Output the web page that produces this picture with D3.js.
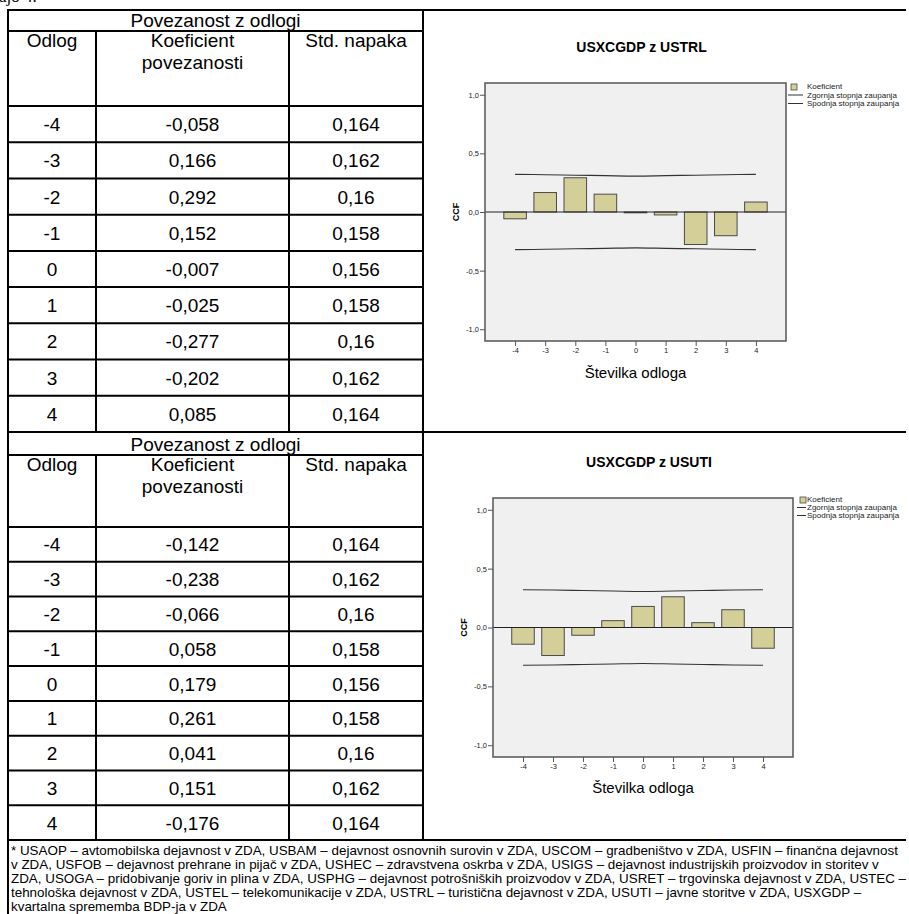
<!DOCTYPE html>
<html>
<head>
<meta charset="utf-8">
<script src="https://cdn.jsdelivr.net/npm/d3@7"></script>
<style>
    body { margin: 0; background: white; }
    svg { display: block; font-family: Arial, "Liberation Sans", sans-serif; }
</style>
</head>
<body>
<svg id="page" width="909" height="914"></svg>
<script>
// Data
const lags = [-4, -3, -2, -1, 0, 1, 2, 3, 4];
const ccfUstrl = [-0.058, 0.166, 0.292, 0.152, -0.007, -0.025, -0.277, -0.202, 0.085];
const ccfUsuti = [-0.142, -0.238, -0.066, 0.058, 0.179, 0.261, 0.041, 0.151, -0.176];
const stdErrors = [0.164, 0.162, 0.16, 0.158, 0.156, 0.158, 0.16, 0.162, 0.164];
const upperLimit = [0.321, 0.318, 0.314, 0.310, 0.306, 0.310, 0.314, 0.318, 0.321];
const lowerLimit = [-0.321, -0.318, -0.314, -0.310, -0.306, -0.310, -0.314, -0.318, -0.321];
const yTicks = [-1, -0.5, 0, 0.5, 1];
const tableTitle = 'Povezanost z odlogi';
const colHeaders = [['Odlog'], ['Koeficient', 'povezanosti'], ['Std. napaka']];
const chartTitles = ['USXCGDP z USTRL', 'USXCGDP z USUTI'];
const legendLabels = ['Koeficient', 'Zgornja stopnja zaupanja', 'Spodnja stopnja zaupanja'];
const footnoteLines = [
    '* USAOP – avtomobilska dejavnost v ZDA, USBAM – dejavnost osnovnih surovin v ZDA, USCOM – gradbeništvo v ZDA, USFIN – finančna dejavnost',
    'v ZDA, USFOB – dejavnost prehrane in pijač v ZDA, USHEC – zdravstvena oskrba v ZDA, USIGS – dejavnost industrijskih proizvodov in storitev v',
    'ZDA, USOGA – pridobivanje goriv in plina v ZDA, USPHG – dejavnost potrošniških proizvodov v ZDA, USRET – trgovinska dejavnost v ZDA, USTEC –',
    'tehnološka dejavnost v ZDA, USTEL – telekomunikacije v ZDA, USTRL – turistična dejavnost v ZDA, USUTI – javne storitve v ZDA, USXGDP –',
    'kvartalna sprememba BDP-ja v ZDA'
];

// Constants
const COL_X = [8, 96, 289, 423];
const RIGHT_X = 906;
const BAR_FILL = '#d4cf98';
const PLOT_BG = '#f0f0f0';
const locale = d3.formatLocale({ decimal: ',', thousands: '.', grouping: [3], currency: ['', ''], minus: '-' });
const fmtValue = locale.format('.3~f');
const fmtTick = locale.format('.1f');

const svg = d3.select('#page');

// Cut off text from the page above
svg.append('text')
    .attr('x', -1).attr('y', 2)
    .attr('font-family', '"Liberation Serif", serif')
    .attr('font-size', 17)
    .text('ajo 4.');

const blocks = [
    { top: 10, titleLine: 31, headBottom: 106, bottom: 432, ccf: ccfUstrl },
    { top: 432, titleLine: 455, headBottom: 527, bottom: 840, ccf: ccfUsuti }
];

const panels = [
    { left: 485, right: 786, top: 83, bottom: 341, titleY: 52, labelY: 378, ccfX: 459, legend: { x: 788, y: 89, sw: 791, lineEnd: 803, textX: 807, step: 8.5 } },
    { left: 493, right: 793, top: 498, bottom: 757, titleY: 467, labelY: 793, ccfX: 467, legend: { x: 797, y: 502, sw: 800, lineEnd: 806, textX: 807, step: 8 } }
];

blocks.forEach((b, i) => {
    drawTable(b);
    drawChart(panels[i], b.ccf, chartTitles[i]);
});

// Outer lines
const frame = svg.append('g').attr('stroke', 'black').attr('stroke-width', 2);
frame.append('line').attr('x1', 7).attr('x2', RIGHT_X).attr('y1', 10).attr('y2', 10);
frame.append('line').attr('x1', 8).attr('x2', 8).attr('y1', 10).attr('y2', 914);
frame.append('line').attr('x1', COL_X[3]).attr('x2', COL_X[3]).attr('y1', 10).attr('y2', 840);
frame.append('line').attr('x1', 7).attr('x2', RIGHT_X).attr('y1', 432).attr('y2', 432);
frame.append('line').attr('x1', 7).attr('x2', RIGHT_X).attr('y1', 840).attr('y2', 840);

// Footnote
svg.append('g')
    .attr('font-family', '"Liberation Sans Narrow", "Arial Narrow", Arial, sans-serif')
    .attr('font-size', 13.4)
    .selectAll('text')
    .data(footnoteLines)
    .enter().append('text')
        .attr('x', 11)
        .attr('y', (d, i) => 855 + i * 14)
        .text((d) => d);

function drawTable(b) {
    const g = svg.append('g');
    const rowScale = d3.scaleBand()
        .domain(lags)
        .range([b.headBottom, b.bottom]);

    // Grid
    const grid = g.append('g').attr('stroke', 'black').attr('stroke-width', 2);
    grid.append('line').attr('x1', COL_X[0]).attr('x2', COL_X[3]).attr('y1', b.titleLine).attr('y2', b.titleLine);
    [COL_X[1], COL_X[2]].forEach((x) => {
        grid.append('line').attr('x1', x).attr('x2', x).attr('y1', b.titleLine).attr('y2', b.bottom);
    });
    grid.selectAll('line.row')
        .data(lags)
        .enter().append('line')
            .attr('class', 'row')
            .attr('x1', COL_X[0]).attr('x2', COL_X[3])
            .attr('y1', (d) => rowScale(d)).attr('y2', (d) => rowScale(d));

    const txt = g.append('g')
        .attr('font-size', 19)
        .attr('text-anchor', 'middle')
        .attr('fill', 'black');

    txt.append('text')
        .attr('x', (COL_X[0] + COL_X[3]) / 2)
        .attr('y', b.titleLine - 4)
        .text(tableTitle);

    colHeaders.forEach((lines, c) => {
        lines.forEach((line, k) => {
            txt.append('text')
                .attr('x', (COL_X[c] + COL_X[c + 1]) / 2)
                .attr('y', b.titleLine + 16 + k * 22)
                .text(line);
        });
    });

    const rows = txt.selectAll('g.r')
        .data(lags.map((l, i) => [String(l), fmtValue(b.ccf[i]), fmtValue(stdErrors[i])]))
        .enter().append('g')
            .attr('class', 'r')
            .attr('transform', (d, i) => 'translate(0,' + (rowScale(lags[i]) + rowScale.bandwidth() / 2 + 7) + ')');
    [0, 1, 2].forEach((c) => {
        rows.append('text')
            .attr('x', (COL_X[c] + COL_X[c + 1]) / 2)
            .text((d) => d[c]);
    });
}

function drawChart(p, ccf, title) {
    const g = svg.append('g');

    const x = d3.scaleLinear().domain([-5, 5]).range([p.left, p.right]);
    const y = d3.scaleLinear().domain([-1.1, 1.1]).range([p.bottom, p.top]);
    const barW = (x(1) - x(0)) * 0.75;

    // Title
    g.append('text')
        .attr('x', (p.left + p.right) / 2 + 6)
        .attr('y', p.titleY)
        .attr('text-anchor', 'middle')
        .attr('font-weight', 'bold')
        .attr('font-size', 14)
        .text(title);

    // Plot background
    g.append('rect')
        .attr('x', p.left).attr('y', p.top)
        .attr('width', p.right - p.left).attr('height', p.bottom - p.top)
        .attr('fill', PLOT_BG);

    // Bars
    g.append('g')
        .selectAll('rect')
        .data(lags)
        .enter().append('rect')
            .attr('x', (d) => x(d) - barW / 2)
            .attr('y', (d, i) => y(Math.max(0, ccf[i])))
            .attr('width', barW)
            .attr('height', (d, i) => Math.abs(y(ccf[i]) - y(0)))
            .attr('fill', BAR_FILL)
            .attr('stroke', '#4a4a4a')
            .attr('stroke-width', 1);

    // Confidence limits
    const limitLine = d3.line()
        .x((d) => x(d[0]))
        .y((d) => y(d[1]))
        .curve(d3.curveMonotoneX);
    [upperLimit, lowerLimit].forEach((lim) => {
        g.append('path')
            .attr('d', limitLine(lags.map((l, i) => [l, lim[i]])))
            .attr('fill', 'none')
            .attr('stroke', '#333')
            .attr('stroke-width', 1.1);
    });

    // Zero line
    g.append('line')
        .attr('x1', p.left).attr('x2', p.right)
        .attr('y1', y(0)).attr('y2', y(0))
        .attr('stroke', '#222')
        .attr('stroke-width', 1.2);

    // Plot frame
    g.append('rect')
        .attr('x', p.left).attr('y', p.top)
        .attr('width', p.right - p.left).attr('height', p.bottom - p.top)
        .attr('fill', 'none')
        .attr('stroke', '#555')
        .attr('stroke-width', 1.5);

    // Axes
    const yAxis = g.append('g')
        .attr('transform', 'translate(' + p.left + ',0)')
        .call(d3.axisLeft(y).tickValues(yTicks).tickSize(5).tickPadding(1).tickFormat(fmtTick));
    const xAxis = g.append('g')
        .attr('transform', 'translate(0,' + p.bottom + ')')
        .call(d3.axisBottom(x).tickValues(lags).tickSize(5).tickPadding(2).tickFormat((d) => String(d)));
    [xAxis, yAxis].forEach((a) => {
        a.select('.domain').remove();
        a.selectAll('line').attr('stroke', '#555');
        a.selectAll('text').attr('font-size', 7.5).attr('fill', '#222').attr('font-family', 'Arial, "Liberation Sans", sans-serif');
    });

    // Axis labels
    g.append('text')
        .attr('transform', 'translate(' + p.ccfX + ',' + y(0) + ') rotate(-90)')
        .attr('text-anchor', 'middle')
        .attr('font-weight', 'bold')
        .attr('font-size', 9)
        .text('CCF');
    g.append('text')
        .attr('x', (p.left + p.right) / 2)
        .attr('y', p.labelY)
        .attr('text-anchor', 'middle')
        .attr('font-size', 15)
        .text('Številka odloga');

    // Legend
    const lg = g.append('g').attr('font-size', 8).attr('fill', '#222');
    lg.append('rect')
        .attr('x', p.legend.sw).attr('y', p.legend.y - 5)
        .attr('width', 6).attr('height', 6)
        .attr('fill', BAR_FILL).attr('stroke', '#4a4a4a').attr('stroke-width', 0.8);
    [1, 2].forEach((k) => {
        lg.append('line')
            .attr('x1', p.legend.x).attr('x2', p.legend.lineEnd)
            .attr('y1', p.legend.y + k * p.legend.step - 2.5)
            .attr('y2', p.legend.y + k * p.legend.step - 2.5)
            .attr('stroke', '#333').attr('stroke-width', 1);
    });
    lg.selectAll('text')
        .data(legendLabels)
        .enter().append('text')
            .attr('x', p.legend.textX)
            .attr('y', (d, k) => p.legend.y + k * p.legend.step)
            .text((d) => d);
}
</script>
</body>
</html>
